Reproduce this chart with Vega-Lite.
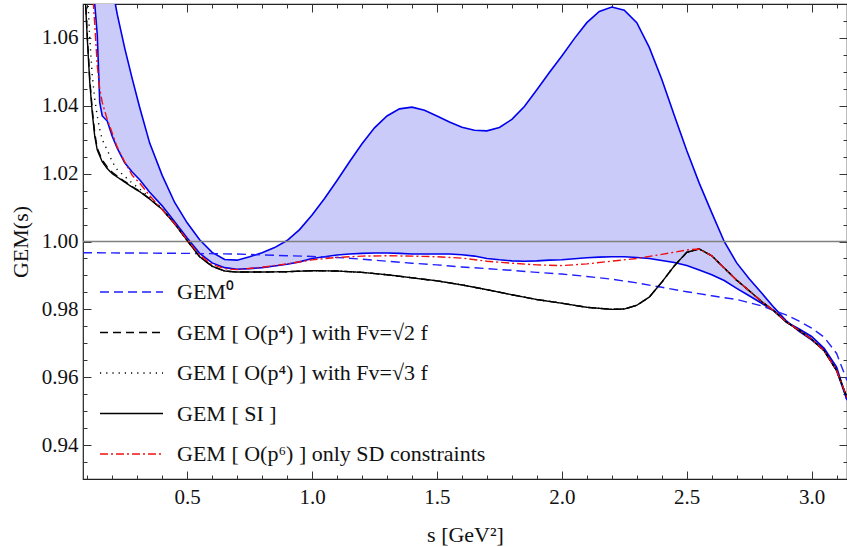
{
  "$schema": "https://vega.github.io/schema/vega-lite/v6.json",
  "width": 764,
  "height": 475,
  "autosize": {"type": "none"},
  "padding": {"left": 83, "top": 4, "right": 0, "bottom": 68},
  "config": {
    "view": {"stroke": "#222", "strokeWidth": 1.2},
    "font": "Liberation Serif",
    "axis": {"domain": false, "grid": false, "labelFont": "Liberation Serif", "labelFontSize": 21, "labelColor": "#111", "tickColor": "#333", "tickWidth": 1, "titleFont": "Liberation Serif", "titleFontWeight": "normal", "titleFontSize": 22, "titleColor": "#111"}
  },
  "datasets": {
    "band": [
      {"s": 0.083, "hi": 1.19, "lo": 1.155},
      {"s": 0.10, "hi": 1.16, "lo": 1.12},
      {"s": 0.12, "hi": 1.13, "lo": 1.085},
      {"s": 0.13, "hi": 1.118, "lo": 1.070},
      {"s": 0.14, "hi": 1.108, "lo": 1.061},
      {"s": 0.15, "hi": 1.099, "lo": 1.041},
      {"s": 0.16, "hi": 1.092, "lo": 1.037},
      {"s": 0.18, "hi": 1.082, "lo": 1.0355},
      {"s": 0.20, "hi": 1.075, "lo": 1.031},
      {"s": 0.22, "hi": 1.067, "lo": 1.0275},
      {"s": 0.25, "hi": 1.057, "lo": 1.0232},
      {"s": 0.28, "hi": 1.048, "lo": 1.0205},
      {"s": 0.31, "hi": 1.0395, "lo": 1.0182},
      {"s": 0.35, "hi": 1.029, "lo": 1.0145},
      {"s": 0.40, "hi": 1.0195, "lo": 1.0105},
      {"s": 0.45, "hi": 1.0115, "lo": 1.0058},
      {"s": 0.50, "hi": 1.0055, "lo": 1.0010},
      {"s": 0.55, "hi": 1.0005, "lo": 0.9965},
      {"s": 0.60, "hi": 0.9968, "lo": 0.9937},
      {"s": 0.65, "hi": 0.9947, "lo": 0.9923},
      {"s": 0.70, "hi": 0.9945, "lo": 0.9918},
      {"s": 0.75, "hi": 0.9955, "lo": 0.9920},
      {"s": 0.80, "hi": 0.9967, "lo": 0.9923},
      {"s": 0.85, "hi": 0.9982, "lo": 0.9928},
      {"s": 0.90, "hi": 1.0003, "lo": 0.9933},
      {"s": 0.95, "hi": 1.0035, "lo": 0.9940},
      {"s": 1.00, "hi": 1.0078, "lo": 0.9950},
      {"s": 1.05, "hi": 1.0127, "lo": 0.9955},
      {"s": 1.10, "hi": 1.0180, "lo": 0.9960},
      {"s": 1.15, "hi": 1.0235, "lo": 0.9963},
      {"s": 1.20, "hi": 1.0288, "lo": 0.9965},
      {"s": 1.25, "hi": 1.0335, "lo": 0.9966},
      {"s": 1.30, "hi": 1.0370, "lo": 0.9966},
      {"s": 1.35, "hi": 1.0391, "lo": 0.9965},
      {"s": 1.40, "hi": 1.0396, "lo": 0.9963},
      {"s": 1.45, "hi": 1.0387, "lo": 0.9963},
      {"s": 1.50, "hi": 1.0370, "lo": 0.9963},
      {"s": 1.55, "hi": 1.0352, "lo": 0.9963},
      {"s": 1.60, "hi": 1.0337, "lo": 0.9961},
      {"s": 1.65, "hi": 1.0328, "lo": 0.9957},
      {"s": 1.70, "hi": 1.0326, "lo": 0.9950},
      {"s": 1.75, "hi": 1.0336, "lo": 0.9946},
      {"s": 1.80, "hi": 1.0360, "lo": 0.9943},
      {"s": 1.85, "hi": 1.0398, "lo": 0.9942},
      {"s": 1.90, "hi": 1.0447, "lo": 0.9943},
      {"s": 1.95, "hi": 1.0498, "lo": 0.9945},
      {"s": 2.00, "hi": 1.0547, "lo": 0.9946},
      {"s": 2.05, "hi": 1.0598, "lo": 0.9949},
      {"s": 2.10, "hi": 1.0645, "lo": 0.9952},
      {"s": 2.15, "hi": 1.0678, "lo": 0.9954},
      {"s": 2.20, "hi": 1.0691, "lo": 0.9955},
      {"s": 2.25, "hi": 1.0682, "lo": 0.9955},
      {"s": 2.30, "hi": 1.0645, "lo": 0.9953},
      {"s": 2.35, "hi": 1.0572, "lo": 0.9950},
      {"s": 2.40, "hi": 1.0478, "lo": 0.9944},
      {"s": 2.45, "hi": 1.0372, "lo": 0.9938},
      {"s": 2.50, "hi": 1.0268, "lo": 0.9929},
      {"s": 2.55, "hi": 1.0172, "lo": 0.9916},
      {"s": 2.60, "hi": 1.0085, "lo": 0.9902},
      {"s": 2.65, "hi": 1.0000, "lo": 0.9885},
      {"s": 2.70, "hi": 0.9937, "lo": 0.9862},
      {"s": 2.75, "hi": 0.9890, "lo": 0.9840},
      {"s": 2.80, "hi": 0.9848, "lo": 0.9818},
      {"s": 2.85, "hi": 0.9805, "lo": 0.9795},
      {"s": 2.90, "hi": 0.9765, "lo": 0.9762},
      {"s": 2.95, "hi": 0.9735, "lo": 0.9742},
      {"s": 3.00, "hi": 0.9710, "lo": 0.9720},
      {"s": 3.05, "hi": 0.9680, "lo": 0.9685},
      {"s": 3.10, "hi": 0.9620, "lo": 0.9630},
      {"s": 3.1416, "hi": 0.9533, "lo": 0.9533}
    ],
    "ref": [{"G": 1.0}],
    "curves": [
      {"k": "G0", "s": 0.083, "G": 0.9967},
      {"k": "G0", "s": 0.3, "G": 0.9966},
      {"k": "G0", "s": 0.5, "G": 0.9965},
      {"k": "G0", "s": 0.7, "G": 0.9963},
      {"k": "G0", "s": 0.9, "G": 0.9958},
      {"k": "G0", "s": 1.0, "G": 0.9956},
      {"k": "G0", "s": 1.1, "G": 0.9953},
      {"k": "G0", "s": 1.2, "G": 0.9948},
      {"k": "G0", "s": 1.3, "G": 0.9942},
      {"k": "G0", "s": 1.4, "G": 0.9936},
      {"k": "G0", "s": 1.5, "G": 0.9931},
      {"k": "G0", "s": 1.6, "G": 0.9925},
      {"k": "G0", "s": 1.7, "G": 0.9920},
      {"k": "G0", "s": 1.8, "G": 0.9915},
      {"k": "G0", "s": 1.9, "G": 0.9909},
      {"k": "G0", "s": 2.0, "G": 0.9904},
      {"k": "G0", "s": 2.1, "G": 0.9897},
      {"k": "G0", "s": 2.2, "G": 0.9889},
      {"k": "G0", "s": 2.3, "G": 0.9878},
      {"k": "G0", "s": 2.4, "G": 0.9865},
      {"k": "G0", "s": 2.5, "G": 0.9852},
      {"k": "G0", "s": 2.6, "G": 0.9840},
      {"k": "G0", "s": 2.7, "G": 0.9829},
      {"k": "G0", "s": 2.8, "G": 0.9810},
      {"k": "G0", "s": 2.9, "G": 0.9783},
      {"k": "G0", "s": 2.95, "G": 0.9765},
      {"k": "G0", "s": 3.0, "G": 0.9745},
      {"k": "G0", "s": 3.05, "G": 0.9718},
      {"k": "G0", "s": 3.1, "G": 0.9670},
      {"k": "G0", "s": 3.1416, "G": 0.9590},

      {"k": "SI", "s": 0.083, "G": 1.095},
      {"k": "SI", "s": 0.09, "G": 1.075},
      {"k": "SI", "s": 0.10, "G": 1.060},
      {"k": "SI", "s": 0.11, "G": 1.047},
      {"k": "SI", "s": 0.12, "G": 1.038},
      {"k": "SI", "s": 0.13, "G": 1.031},
      {"k": "SI", "s": 0.14, "G": 1.027},
      {"k": "SI", "s": 0.16, "G": 1.0235},
      {"k": "SI", "s": 0.18, "G": 1.0215},
      {"k": "SI", "s": 0.20, "G": 1.0200},
      {"k": "SI", "s": 0.22, "G": 1.0190},
      {"k": "SI", "s": 0.25, "G": 1.0175},
      {"k": "SI", "s": 0.28, "G": 1.0160},
      {"k": "SI", "s": 0.31, "G": 1.0147},
      {"k": "SI", "s": 0.35, "G": 1.0125},
      {"k": "SI", "s": 0.40, "G": 1.0095},
      {"k": "SI", "s": 0.45, "G": 1.0052},
      {"k": "SI", "s": 0.50, "G": 1.0003},
      {"k": "SI", "s": 0.55, "G": 0.9955},
      {"k": "SI", "s": 0.60, "G": 0.9927},
      {"k": "SI", "s": 0.65, "G": 0.9913},
      {"k": "SI", "s": 0.70, "G": 0.9910},
      {"k": "SI", "s": 0.80, "G": 0.9910},
      {"k": "SI", "s": 0.90, "G": 0.9911},
      {"k": "SI", "s": 1.00, "G": 0.9914},
      {"k": "SI", "s": 1.10, "G": 0.9913},
      {"k": "SI", "s": 1.20, "G": 0.9909},
      {"k": "SI", "s": 1.30, "G": 0.9902},
      {"k": "SI", "s": 1.40, "G": 0.9893},
      {"k": "SI", "s": 1.50, "G": 0.9884},
      {"k": "SI", "s": 1.60, "G": 0.9872},
      {"k": "SI", "s": 1.70, "G": 0.9858},
      {"k": "SI", "s": 1.80, "G": 0.9843},
      {"k": "SI", "s": 1.90, "G": 0.9829},
      {"k": "SI", "s": 2.00, "G": 0.9818},
      {"k": "SI", "s": 2.10, "G": 0.9806},
      {"k": "SI", "s": 2.20, "G": 0.9800},
      {"k": "SI", "s": 2.25, "G": 0.9801},
      {"k": "SI", "s": 2.30, "G": 0.9812},
      {"k": "SI", "s": 2.35, "G": 0.9836},
      {"k": "SI", "s": 2.40, "G": 0.9880},
      {"k": "SI", "s": 2.45, "G": 0.9928},
      {"k": "SI", "s": 2.50, "G": 0.9968},
      {"k": "SI", "s": 2.55, "G": 0.9978},
      {"k": "SI", "s": 2.60, "G": 0.9958},
      {"k": "SI", "s": 2.65, "G": 0.9922},
      {"k": "SI", "s": 2.70, "G": 0.9886},
      {"k": "SI", "s": 2.75, "G": 0.9855},
      {"k": "SI", "s": 2.80, "G": 0.9823},
      {"k": "SI", "s": 2.85, "G": 0.9795},
      {"k": "SI", "s": 2.90, "G": 0.9762},
      {"k": "SI", "s": 2.95, "G": 0.9738},
      {"k": "SI", "s": 3.00, "G": 0.9712},
      {"k": "SI", "s": 3.05, "G": 0.9678},
      {"k": "SI", "s": 3.10, "G": 0.9620},
      {"k": "SI", "s": 3.1416, "G": 0.9540},

      {"k": "F2", "s": 0.083, "G": 1.096},
      {"k": "F2", "s": 0.09, "G": 1.076},
      {"k": "F2", "s": 0.10, "G": 1.061},
      {"k": "F2", "s": 0.11, "G": 1.048},
      {"k": "F2", "s": 0.12, "G": 1.039},
      {"k": "F2", "s": 0.13, "G": 1.032},
      {"k": "F2", "s": 0.14, "G": 1.0275},
      {"k": "F2", "s": 0.16, "G": 1.024},
      {"k": "F2", "s": 0.18, "G": 1.022},
      {"k": "F2", "s": 0.20, "G": 1.0204},
      {"k": "F2", "s": 0.22, "G": 1.0193},
      {"k": "F2", "s": 0.25, "G": 1.0177},
      {"k": "F2", "s": 0.28, "G": 1.0162},
      {"k": "F2", "s": 0.31, "G": 1.0148},
      {"k": "F2", "s": 0.35, "G": 1.0126},
      {"k": "F2", "s": 0.40, "G": 1.0095},
      {"k": "F2", "s": 0.45, "G": 1.0052},
      {"k": "F2", "s": 0.50, "G": 1.0003},
      {"k": "F2", "s": 0.55, "G": 0.9955},
      {"k": "F2", "s": 0.60, "G": 0.9927},
      {"k": "F2", "s": 0.65, "G": 0.9913},
      {"k": "F2", "s": 0.70, "G": 0.9910},
      {"k": "F2", "s": 0.80, "G": 0.9910},
      {"k": "F2", "s": 0.90, "G": 0.9911},
      {"k": "F2", "s": 1.00, "G": 0.9914},
      {"k": "F2", "s": 1.10, "G": 0.9913},
      {"k": "F2", "s": 1.20, "G": 0.9909},
      {"k": "F2", "s": 1.30, "G": 0.9902},
      {"k": "F2", "s": 1.40, "G": 0.9893},
      {"k": "F2", "s": 1.50, "G": 0.9884},
      {"k": "F2", "s": 1.60, "G": 0.9872},
      {"k": "F2", "s": 1.70, "G": 0.9858},
      {"k": "F2", "s": 1.80, "G": 0.9843},
      {"k": "F2", "s": 1.90, "G": 0.9829},
      {"k": "F2", "s": 2.00, "G": 0.9818},
      {"k": "F2", "s": 2.10, "G": 0.9806},
      {"k": "F2", "s": 2.20, "G": 0.9800},
      {"k": "F2", "s": 2.25, "G": 0.9801},
      {"k": "F2", "s": 2.30, "G": 0.9812},
      {"k": "F2", "s": 2.35, "G": 0.9836},
      {"k": "F2", "s": 2.40, "G": 0.9880},
      {"k": "F2", "s": 2.45, "G": 0.9928},
      {"k": "F2", "s": 2.50, "G": 0.9968},
      {"k": "F2", "s": 2.55, "G": 0.9978},
      {"k": "F2", "s": 2.60, "G": 0.9958},
      {"k": "F2", "s": 2.65, "G": 0.9922},
      {"k": "F2", "s": 2.70, "G": 0.9886},
      {"k": "F2", "s": 2.75, "G": 0.9855},
      {"k": "F2", "s": 2.80, "G": 0.9823},
      {"k": "F2", "s": 2.85, "G": 0.9795},
      {"k": "F2", "s": 2.90, "G": 0.9762},
      {"k": "F2", "s": 2.95, "G": 0.9738},
      {"k": "F2", "s": 3.00, "G": 0.9712},
      {"k": "F2", "s": 3.05, "G": 0.9678},
      {"k": "F2", "s": 3.10, "G": 0.9620},
      {"k": "F2", "s": 3.1416, "G": 0.9540},

      {"k": "F3", "s": 0.09, "G": 1.095},
      {"k": "F3", "s": 0.10, "G": 1.075},
      {"k": "F3", "s": 0.11, "G": 1.060},
      {"k": "F3", "s": 0.12, "G": 1.049},
      {"k": "F3", "s": 0.13, "G": 1.042},
      {"k": "F3", "s": 0.14, "G": 1.037},
      {"k": "F3", "s": 0.15, "G": 1.033},
      {"k": "F3", "s": 0.16, "G": 1.030},
      {"k": "F3", "s": 0.18, "G": 1.027},
      {"k": "F3", "s": 0.20, "G": 1.0235},
      {"k": "F3", "s": 0.22, "G": 1.0212},
      {"k": "F3", "s": 0.25, "G": 1.0192},
      {"k": "F3", "s": 0.28, "G": 1.0172},
      {"k": "F3", "s": 0.31, "G": 1.0155},
      {"k": "F3", "s": 0.35, "G": 1.0130},
      {"k": "F3", "s": 0.40, "G": 1.0097},
      {"k": "F3", "s": 0.45, "G": 1.0053},
      {"k": "F3", "s": 0.50, "G": 1.0003},
      {"k": "F3", "s": 0.55, "G": 0.9955},
      {"k": "F3", "s": 0.60, "G": 0.9927},
      {"k": "F3", "s": 0.65, "G": 0.9913},
      {"k": "F3", "s": 0.70, "G": 0.9910},
      {"k": "F3", "s": 0.80, "G": 0.9910},
      {"k": "F3", "s": 0.90, "G": 0.9911},
      {"k": "F3", "s": 1.00, "G": 0.9914},
      {"k": "F3", "s": 1.10, "G": 0.9913},
      {"k": "F3", "s": 1.20, "G": 0.9909},
      {"k": "F3", "s": 1.30, "G": 0.9902},
      {"k": "F3", "s": 1.40, "G": 0.9893},
      {"k": "F3", "s": 1.50, "G": 0.9884},
      {"k": "F3", "s": 1.60, "G": 0.9872},
      {"k": "F3", "s": 1.70, "G": 0.9858},
      {"k": "F3", "s": 1.80, "G": 0.9843},
      {"k": "F3", "s": 1.90, "G": 0.9829},
      {"k": "F3", "s": 2.00, "G": 0.9818},
      {"k": "F3", "s": 2.10, "G": 0.9806},
      {"k": "F3", "s": 2.20, "G": 0.9800},
      {"k": "F3", "s": 2.25, "G": 0.9801},
      {"k": "F3", "s": 2.30, "G": 0.9812},
      {"k": "F3", "s": 2.35, "G": 0.9836},
      {"k": "F3", "s": 2.40, "G": 0.9880},
      {"k": "F3", "s": 2.45, "G": 0.9928},
      {"k": "F3", "s": 2.50, "G": 0.9968},
      {"k": "F3", "s": 2.55, "G": 0.9978},
      {"k": "F3", "s": 2.60, "G": 0.9958},
      {"k": "F3", "s": 2.65, "G": 0.9922},
      {"k": "F3", "s": 2.70, "G": 0.9886},
      {"k": "F3", "s": 2.75, "G": 0.9855},
      {"k": "F3", "s": 2.80, "G": 0.9823},
      {"k": "F3", "s": 2.85, "G": 0.9795},
      {"k": "F3", "s": 2.90, "G": 0.9762},
      {"k": "F3", "s": 2.95, "G": 0.9738},
      {"k": "F3", "s": 3.00, "G": 0.9712},
      {"k": "F3", "s": 3.05, "G": 0.9678},
      {"k": "F3", "s": 3.10, "G": 0.9620},
      {"k": "F3", "s": 3.1416, "G": 0.9540},

      {"k": "P6", "s": 0.115, "G": 1.085},
      {"k": "P6", "s": 0.12, "G": 1.075},
      {"k": "P6", "s": 0.13, "G": 1.064},
      {"k": "P6", "s": 0.14, "G": 1.052},
      {"k": "P6", "s": 0.15, "G": 1.045},
      {"k": "P6", "s": 0.16, "G": 1.041},
      {"k": "P6", "s": 0.18, "G": 1.036},
      {"k": "P6", "s": 0.20, "G": 1.032},
      {"k": "P6", "s": 0.22, "G": 1.0278},
      {"k": "P6", "s": 0.25, "G": 1.0235},
      {"k": "P6", "s": 0.28, "G": 1.0195},
      {"k": "P6", "s": 0.31, "G": 1.0172},
      {"k": "P6", "s": 0.35, "G": 1.0135},
      {"k": "P6", "s": 0.40, "G": 1.0094},
      {"k": "P6", "s": 0.45, "G": 1.0053},
      {"k": "P6", "s": 0.50, "G": 1.0005},
      {"k": "P6", "s": 0.55, "G": 0.9960},
      {"k": "P6", "s": 0.60, "G": 0.9932},
      {"k": "P6", "s": 0.65, "G": 0.9920},
      {"k": "P6", "s": 0.70, "G": 0.9917},
      {"k": "P6", "s": 0.80, "G": 0.9924},
      {"k": "P6", "s": 0.90, "G": 0.9934},
      {"k": "P6", "s": 1.00, "G": 0.9946},
      {"k": "P6", "s": 1.10, "G": 0.9953},
      {"k": "P6", "s": 1.20, "G": 0.9957},
      {"k": "P6", "s": 1.30, "G": 0.9958},
      {"k": "P6", "s": 1.40, "G": 0.9957},
      {"k": "P6", "s": 1.50, "G": 0.9955},
      {"k": "P6", "s": 1.60, "G": 0.9951},
      {"k": "P6", "s": 1.70, "G": 0.9942},
      {"k": "P6", "s": 1.80, "G": 0.9936},
      {"k": "P6", "s": 1.90, "G": 0.9931},
      {"k": "P6", "s": 2.00, "G": 0.9929},
      {"k": "P6", "s": 2.10, "G": 0.9934},
      {"k": "P6", "s": 2.20, "G": 0.9942},
      {"k": "P6", "s": 2.30, "G": 0.9950},
      {"k": "P6", "s": 2.40, "G": 0.9962},
      {"k": "P6", "s": 2.50, "G": 0.9975},
      {"k": "P6", "s": 2.55, "G": 0.9978},
      {"k": "P6", "s": 2.60, "G": 0.9958},
      {"k": "P6", "s": 2.65, "G": 0.9922},
      {"k": "P6", "s": 2.70, "G": 0.9886},
      {"k": "P6", "s": 2.75, "G": 0.9855},
      {"k": "P6", "s": 2.80, "G": 0.9823},
      {"k": "P6", "s": 2.85, "G": 0.9795},
      {"k": "P6", "s": 2.90, "G": 0.9762},
      {"k": "P6", "s": 2.95, "G": 0.9738},
      {"k": "P6", "s": 3.00, "G": 0.9712},
      {"k": "P6", "s": 3.05, "G": 0.9678},
      {"k": "P6", "s": 3.10, "G": 0.9620},
      {"k": "P6", "s": 3.1416, "G": 0.9540}
    ]
  },
  "resolve": {"axis": {"x": "independent", "y": "independent"}},
  "layer": [
    {
      "data": {"name": "band"},
      "mark": {"type": "area", "clip": true, "color": "#cbcbf9", "opacity": 1},
      "encoding": {
        "x": {"field": "s", "type": "quantitative", "scale": {"domain": [0.083, 3.1416], "nice": false, "zero": false},
              "axis": {"orient": "bottom", "values": [0.5, 1.0, 1.5, 2.0, 2.5, 3.0], "format": ".1f", "tickSize": -8, "labelPadding": 15, "title": "s [GeV²]", "titlePadding": 17}},
        "y": {"field": "lo", "type": "quantitative", "scale": {"domain": [0.93, 1.07], "nice": false, "zero": false},
              "axis": {"orient": "left", "values": [0.94, 0.96, 0.98, 1.0, 1.02, 1.04, 1.06], "format": ".2f", "tickSize": -8, "labelPadding": 13, "title": "GEM(s)", "titlePadding": 9}},
        "y2": {"field": "hi"}
      }
    },
    {
      "data": {"name": "band"},
      "mark": {"type": "line", "clip": true, "color": "#0000ee", "strokeWidth": 1.6},
      "encoding": {
        "x": {"field": "s", "type": "quantitative",
              "axis": {"orient": "bottom", "values": [0.1,0.2,0.3,0.4,0.6,0.7,0.8,0.9,1.1,1.2,1.3,1.4,1.6,1.7,1.8,1.9,2.1,2.2,2.3,2.4,2.6,2.7,2.8,2.9,3.1], "labels": false, "tickSize": -4, "title": null}},
        "y": {"field": "hi", "type": "quantitative",
              "axis": {"orient": "left", "values": [0.935,0.945,0.95,0.955,0.965,0.97,0.975,0.985,0.99,0.995,1.005,1.01,1.015,1.025,1.03,1.035,1.045,1.05,1.055,1.065], "labels": false, "tickSize": -4, "title": null}}
      }
    },
    {
      "data": {"name": "band"},
      "mark": {"type": "line", "clip": true, "color": "#0000ee", "strokeWidth": 1.6},
      "encoding": {
        "x": {"field": "s", "type": "quantitative",
              "axis": {"orient": "top", "values": [0.5, 1.0, 1.5, 2.0, 2.5, 3.0], "labels": false, "tickSize": -8, "title": null}},
        "y": {"field": "lo", "type": "quantitative",
              "axis": {"orient": "right", "values": [0.94, 0.96, 0.98, 1.0, 1.02, 1.04, 1.06], "labels": false, "tickSize": -8, "title": null}}
      }
    },
    {
      "data": {"name": "ref"},
      "mark": {"type": "rule", "color": "#808080", "strokeWidth": 1.3},
      "encoding": {
        "y": {"field": "G", "type": "quantitative", "axis": null}
      }
    },
    {
      "data": {"name": "curves"},
      "mark": {"type": "line", "clip": true, "strokeWidth": 1.4},
      "encoding": {
        "x": {"field": "s", "type": "quantitative",
              "axis": {"orient": "top", "values": [0.1,0.2,0.3,0.4,0.6,0.7,0.8,0.9,1.1,1.2,1.3,1.4,1.6,1.7,1.8,1.9,2.1,2.2,2.3,2.4,2.6,2.7,2.8,2.9,3.1], "labels": false, "tickSize": -4, "title": null}},
        "y": {"field": "G", "type": "quantitative",
              "axis": {"orient": "right", "values": [0.935,0.945,0.95,0.955,0.965,0.97,0.975,0.985,0.99,0.995,1.005,1.01,1.015,1.025,1.03,1.035,1.045,1.05,1.055,1.065], "labels": false, "tickSize": -4, "title": null}},
        "color": {"field": "k", "type": "nominal",
                  "scale": {"domain": ["G0", "F2", "F3", "SI", "P6"], "range": ["#1f1fff", "#000000", "#000000", "#000000", "#ee1111"]},
                  "legend": {"orient": "none", "legendX": 16, "legendY": 277, "title": null, "symbolType": "stroke", "symbolSize": 3969, "symbolStrokeWidth": 1.3, "clipHeight": 22, "rowPadding": 18.5, "labelFont": "Liberation Serif", "labelFontSize": 22, "labelColor": "#111", "labelOffset": 13, "padding": 0, "labelLimit": 500,
                             "labelExpr": "datum.label == 'G0' ? 'GEM⁰' : datum.label == 'F2' ? 'GEM [ O(p⁴) ] with Fv=√2 f' : datum.label == 'F3' ? 'GEM [ O(p⁴) ] with Fv=√3 f' : datum.label == 'SI' ? 'GEM [ SI ]' : 'GEM [ O(p⁶) ] only SD constraints'"}},
        "strokeDash": {"field": "k", "type": "nominal",
                  "scale": {"domain": ["G0", "F2", "F3", "SI", "P6"], "range": [[9, 5], [8, 5], [1.2, 5], [1, 0], [8, 3, 2, 3]]},
                  "legend": {"orient": "none", "legendX": 16, "legendY": 277, "title": null, "symbolType": "stroke", "symbolSize": 3969, "symbolStrokeWidth": 1.3, "clipHeight": 22, "rowPadding": 18.5, "labelFont": "Liberation Serif", "labelFontSize": 22, "labelColor": "#111", "labelOffset": 13, "padding": 0, "labelLimit": 500,
                             "labelExpr": "datum.label == 'G0' ? 'GEM⁰' : datum.label == 'F2' ? 'GEM [ O(p⁴) ] with Fv=√2 f' : datum.label == 'F3' ? 'GEM [ O(p⁴) ] with Fv=√3 f' : datum.label == 'SI' ? 'GEM [ SI ]' : 'GEM [ O(p⁶) ] only SD constraints'"}}
      }
    }
  ]
}
